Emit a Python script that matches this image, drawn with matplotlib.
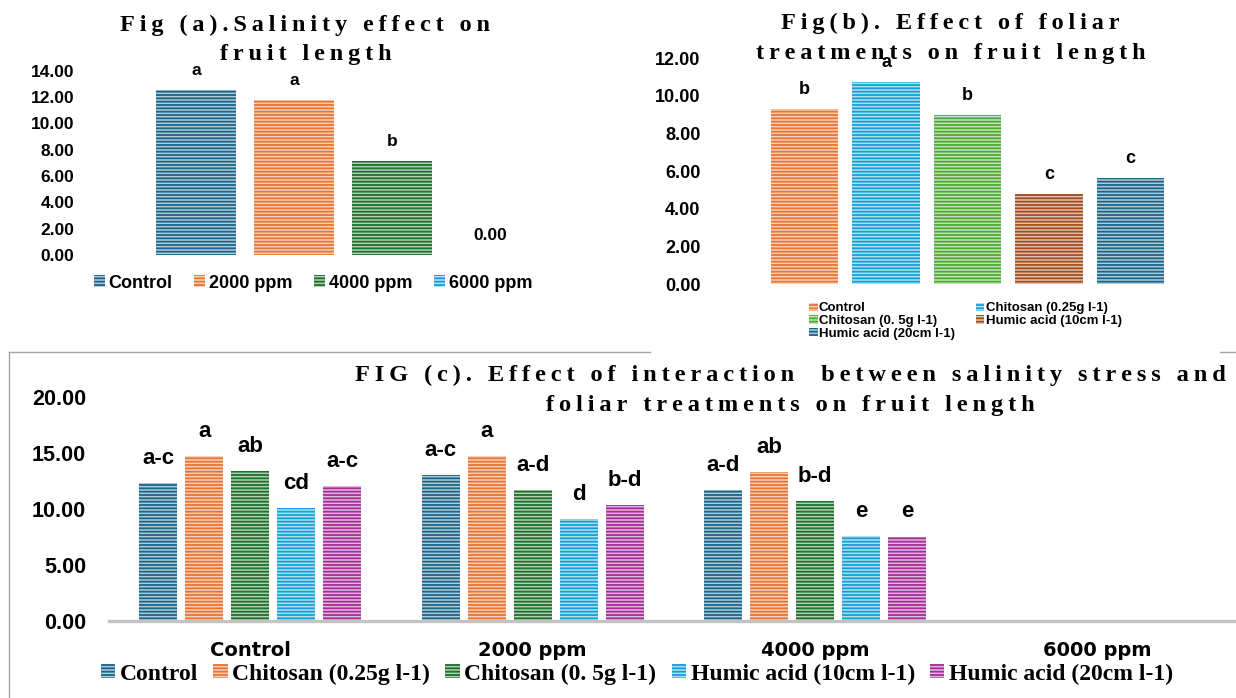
import numpy as np
import matplotlib
matplotlib.use("Agg")
import matplotlib.pyplot as plt
from matplotlib.colors import to_rgb
from matplotlib.lines import Line2D
from matplotlib.patches import Patch

# ---------------- data ----------------
salinity_levels = ["Control", "2000 ppm", "4000 ppm", "6000 ppm"]
salinity_length = [12.54, 11.78, 7.17, 0.00]
salinity_letters = ["a", "a", "b", ""]

foliar_treatments = ["Control", "Chitosan (0.25g l-1)", "Chitosan (0. 5g l-1)",
                     "Humic acid (10cm l-1)", "Humic acid (20cm l-1)"]
foliar_length = [9.29, 10.74, 8.97, 4.77, 5.62]
foliar_letters = ["b", "a", "b", "c", "c"]

interaction_treatments = ["Control", "Chitosan (0.25g l-1)", "Chitosan (0. 5g l-1)",
                          "Humic acid (10cm l-1)", "Humic acid (20cm l-1)"]
interaction_length = {
    "Control":  [12.33, 14.68, 13.35, 10.05, 12.01],
    "2000 ppm": [13.02, 14.68, 11.71, 9.07, 10.34],
    "4000 ppm": [11.68, 13.31, 10.70, 7.61, 7.55],
    "6000 ppm": [0.00, 0.00, 0.00, 0.00, 0.00],
}
interaction_letters = {
    "Control":  ["a-c", "a", "ab", "cd", "a-c"],
    "2000 ppm": ["a-c", "a", "a-d", "d", "b-d"],
    "4000 ppm": ["a-d", "ab", "b-d", "e", "e"],
    "6000 ppm": ["", "", "", "", ""],
}

# ---------------- styling ----------------
BLUE = "#1b6489"
ORANGE = "#ea7433"
DKGREEN = "#1d6e28"
SKY = "#14a0d6"
PURPLE = "#a42d96"
LTGREEN = "#4faa33"
BROWN = "#a34c1f"

salinity_colors = [BLUE, ORANGE, DKGREEN, SKY]
foliar_colors = [ORANGE, SKY, LTGREEN, BROWN, BLUE]
interaction_colors = [BLUE, ORANGE, DKGREEN, SKY, PURPLE]

SANS = ["Liberation Sans", "DejaVu Sans"]
SERIF = ["Liberation Serif", "DejaVu Serif"]
THIN = "\u2009"

plt.rcParams["hatch.linewidth"] = 1.3
HATCH = "-----"

W, H = 1236, 698
fig = plt.figure(figsize=(W / 100, H / 100), dpi=100)


def fx(px):
    return px / W


def fy(py):
    return 1 - py / H


def tint(color, amount=0.66):
    r, g, b = to_rgb(color)
    return (r + (1 - r) * amount, g + (1 - g) * amount, b + (1 - b) * amount)


def striped_bar(ax, x, h, w, color):
    return ax.bar(x, h, w, color=tint(color), edgecolor=color,
                  linewidth=0, hatch=HATCH)


def swatch(color):
    return Patch(facecolor=tint(color), edgecolor=color, linewidth=0, hatch=HATCH)


def spaced(s):
    return THIN.join(s)


def title_lines(x, y1, y2, line1, line2, size):
    for y, line in ((y1, line1), (y2, line2)):
        fig.text(fx(x), fy(y), spaced(line), ha="center", va="baseline",
                 fontsize=size, fontweight="bold", family=SERIF)


def clean_axes(ax):
    for side in ("top", "right", "left", "bottom"):
        ax.spines[side].set_visible(False)
    ax.set_xticks([])


# ---------------- Fig (a) ----------------
ax_a = fig.add_axes([fx(147.4), fy(255), fx(539 - 147.4), (255 - 70.7) / H])
xa = np.arange(len(salinity_levels))
for i, (v, c) in enumerate(zip(salinity_length, salinity_colors)):
    striped_bar(ax_a, xa[i], v, 0.82, c)
    lab = salinity_letters[i] if salinity_letters[i] else f"{v:.2f}"
    ax_a.annotate(lab, (xa[i], v), xytext=(0, 10.8), textcoords="offset points",
                  ha="center", va="baseline", fontsize=12.5, fontweight="bold",
                  family=SANS, annotation_clip=False)
ax_a.set_xlim(-0.5, len(salinity_levels) - 0.5)
ax_a.set_ylim(0, 14)
ax_a.set_yticks(np.arange(0, 14.01, 2))
ax_a.set_yticklabels([f"{t:.2f}" for t in np.arange(0, 14.01, 2)])
ax_a.tick_params(axis="y", length=0, pad=52.6, labelsize=12.5)
for t in ax_a.get_yticklabels():
    t.set_fontweight("bold")
    t.set_family(SANS)
clean_axes(ax_a)
title_lines(305.5, 30.7, 60.0, "Fig (a).Salinity effect on", "fruit length", 17.5)

fig.legend([swatch(c) for c in salinity_colors], salinity_levels, loc="center",
           bbox_to_anchor=(fx(313), fy(283)), ncol=4, frameon=False,
           prop={"family": SANS, "weight": "bold", "size": 13},
           handlelength=0.62, handleheight=0.6, handletextpad=0.2,
           columnspacing=1.2, borderpad=0, borderaxespad=0)

# ---------------- Fig (b) ----------------
ax_b = fig.add_axes([fx(764), fy(284), fx(1171 - 764), (284 - 58.3) / H])
xb = np.arange(len(foliar_treatments))
for i, (v, c) in enumerate(zip(foliar_length, foliar_colors)):
    striped_bar(ax_b, xb[i], v, 0.83, c)
    ax_b.annotate(foliar_letters[i], (xb[i], v), xytext=(0, 11),
                  textcoords="offset points", ha="center", va="baseline",
                  fontsize=13, fontweight="bold", family=SANS,
                  annotation_clip=False)
ax_b.set_xlim(-0.5, len(foliar_treatments) - 0.5)
ax_b.set_ylim(0, 12)
ax_b.set_yticks(np.arange(0, 12.01, 2))
ax_b.set_yticklabels([f"{t:.2f}" for t in np.arange(0, 12.01, 2)])
ax_b.tick_params(axis="y", length=0, pad=45.8, labelsize=13)
for t in ax_b.get_yticklabels():
    t.set_fontweight("bold")
    t.set_family(SANS)
clean_axes(ax_b)
title_lines(950.5, 29.3, 59.3, "Fig(b). Effect of foliar",
            "treatments on fruit length", 17.5)

order_b = [0, 2, 4, 1, 3]
fig.legend([swatch(foliar_colors[k]) for k in order_b],
           [foliar_treatments[k] for k in order_b], loc="center",
           bbox_to_anchor=(fx(965.5), fy(321)), ncol=2, frameon=False,
           prop={"family": SANS, "weight": "bold", "size": 9.5},
           handlelength=0.63, handleheight=0.6, handletextpad=0.1,
           columnspacing=1.6, labelspacing=0.05, borderpad=0, borderaxespad=0)

# ---------------- Fig (c) ----------------
ax_c = fig.add_axes([fx(109.2), fy(621.3), fx(1238.6 - 109.2), (621.3 - 396.7) / H])
groups = list(interaction_length.keys())
xc = np.arange(len(groups))
step, width = 0.163, 0.1346
offsets = (np.arange(len(interaction_treatments)) - 2) * step
for g, grp in enumerate(groups):
    for k, c in enumerate(interaction_colors):
        v = interaction_length[grp][k]
        striped_bar(ax_c, xc[g] + offsets[k], v, width, c)
        lab = interaction_letters[grp][k]
        if lab:
            ax_c.annotate(lab, (xc[g] + offsets[k], v), xytext=(0, 13.8),
                          textcoords="offset points", ha="center", va="baseline",
                          fontsize=16, fontweight="bold", family=SANS,
                          annotation_clip=False)
ax_c.set_xlim(-0.5, len(groups) - 0.5)
ax_c.set_ylim(0, 20)
ax_c.set_yticks(np.arange(0, 20.01, 5))
ax_c.set_yticklabels([f"{t:.2f}" for t in np.arange(0, 20.01, 5)])
ax_c.tick_params(axis="y", length=0, pad=16.6, labelsize=15.5)
for t in ax_c.get_yticklabels():
    t.set_fontweight("bold")
    t.set_family(SANS)
for side in ("top", "right", "left"):
    ax_c.spines[side].set_visible(False)
ax_c.spines["bottom"].set_color("#c3c3c3")
ax_c.spines["bottom"].set_linewidth(2.4)
ax_c.set_xticks(xc)
ax_c.set_xticklabels(groups, fontsize=14, fontweight="bold", family="DejaVu Sans")
ax_c.tick_params(axis="x", length=0, pad=14.5)
title_lines(790.5, 381, 411.5,
            "FIG (c). Effect of interaction  between salinity stress and",
            "foliar treatments on fruit length", 17.6)

fig.legend([swatch(c) for c in interaction_colors], interaction_treatments,
           loc="center", bbox_to_anchor=(fx(637), fy(674)), ncol=5,
           frameon=False, prop={"family": SERIF, "weight": "bold", "size": 17},
           handlelength=0.6, handleheight=0.5, handletextpad=0.2,
           columnspacing=0.65, borderpad=0, borderaxespad=0)

# frame around the interaction panel
frame = "#a6a6a6"
fig.add_artist(Line2D([fx(8.5), fx(8.5)], [fy(352), fy(698)], color=frame, lw=1))
fig.add_artist(Line2D([fx(8.5), fx(650)], [fy(352), fy(352)], color=frame, lw=1))
fig.add_artist(Line2D([fx(1220), fx(1236)], [fy(352), fy(352)], color=frame, lw=1))

fig.savefig("out.png", dpi=100)
